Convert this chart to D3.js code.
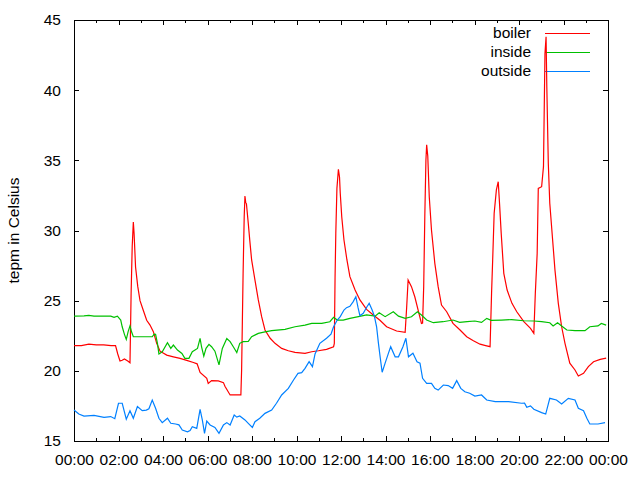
<!DOCTYPE html>
<html>
<head>
<meta charset="utf-8">
<script src="https://cdn.jsdelivr.net/npm/d3@7"></script>
<style>
  body { margin: 0; background: #fff; }
  text { font-family: "Liberation Sans", Arial, sans-serif; font-size: 15.5px; fill: #000; }
</style>
</head>
<body>
<div id="chart"></div>
<script>
// minutes of the day, temperatures in Celsius
var boilerMin = [0,20,40,60,80,100,112,118,124,130,136,145,151,154,157,160,162,166,172,178,187,196,205,214,223,232,250,268,286,304,322,332,340,358,362,371,389,403,407,421,450,452,454,456,459,461,463,465,470,474,479,488,497,506,515,529,542,560,578,596,623,641,659,681,700,702,704,706,709,713,716,718,722,728,736,744,758,771,789,807,825,843,870,893,897,901,910,919,928,937,940,943,946,949,951,954,958,964,973,982,991,1005,1022,1041,1059,1077,1095,1110,1122,1126,1129,1133,1139,1144,1148,1152,1159,1168,1181,1194,1213,1231,1240,1244,1249,1252,1261,1266,1270,1273,1275,1279,1283,1290,1297,1306,1315,1324,1337,1351,1360,1374,1387,1401,1419,1435];
var boilerTemp = [21.8,21.8,21.9,21.85,21.85,21.8,21.8,21.2,20.7,20.75,20.85,20.7,20.58,25.5,28.9,30.6,29.8,27.4,26.0,25.0,24.3,23.6,23.26,22.79,21.96,21.4,21.12,21.0,20.89,20.75,20.59,20.5,19.88,19.47,19.1,19.3,19.28,19.16,18.9,18.28,18.28,20.06,23.5,26.95,31.0,32.46,32.0,31.9,30.5,29.3,27.9,26.47,25.05,23.86,22.91,22.32,21.96,21.6,21.43,21.31,21.24,21.36,21.43,21.53,21.72,21.96,26.7,29.8,33.0,34.36,33.8,32.65,30.98,29.32,27.9,26.71,25.76,25.05,24.38,23.98,23.6,23.14,22.84,22.74,24.5,26.47,26.0,25.28,24.33,23.38,23.4,26.0,31.0,35.0,36.1,35.3,32.4,30.04,27.66,26.0,24.69,24.21,23.38,22.91,22.43,22.15,21.9,21.8,21.72,25.52,27.9,31.22,32.89,33.48,31.7,29.8,26.95,25.76,24.81,24.21,23.5,23.03,22.67,25.52,28.37,33.0,33.12,34.55,42.6,43.81,40.25,34.79,31.94,29.56,27.18,24.81,23.14,21.96,20.55,20.06,19.63,19.82,20.3,20.65,20.82,20.9];

var insideMin = [0,27,40,54,99,108,117,126,130,136,141,146,151,155,160,211,216,220,225,229,238,252,261,268,279,291,299,310,319,333,340,344,350,356,364,371,380,391,400,412,421,430,439,447,456,470,479,497,515,533,569,596,623,641,668,690,700,710,726,744,767,789,812,823,839,861,875,893,910,926,937,951,969,995,1022,1040,1060,1081,1099,1113,1125,1153,1180,1213,1240,1261,1283,1292,1304,1315,1329,1351,1378,1391,1413,1422,1435];
var insideTemp = [23.9,23.92,23.95,23.9,23.9,23.81,23.9,23.62,23.14,22.6,22.24,22.79,23.2,22.8,22.43,22.43,22.62,22.6,21.96,21.2,21.36,22.0,21.6,21.84,21.48,21.24,20.89,20.89,21.36,21.6,22.32,21.7,21.05,21.6,21.89,21.72,21.4,20.42,21.6,22.3,22.08,21.7,21.31,21.96,22.08,22.1,22.43,22.67,22.77,22.86,22.96,23.14,23.26,23.38,23.38,23.5,23.81,23.62,23.62,23.74,23.86,23.98,23.9,24.14,23.86,24.21,23.9,23.74,23.85,24.21,23.98,23.62,23.43,23.5,23.62,23.45,23.5,23.55,23.45,23.74,23.6,23.62,23.65,23.57,23.55,23.5,23.43,23.2,23.43,23.2,22.91,22.86,22.86,23.14,23.2,23.38,23.26];

var outsideMin = [0,13,27,54,81,99,110,120,130,141,151,160,171,184,195,202,211,220,229,238,252,261,274,283,292,306,313,319,331,340,346,352,358,367,380,391,403,412,421,432,439,447,461,470,481,488,501,515,533,546,560,578,592,604,614,623,634,643,650,663,681,693,700,710,718,728,735,744,753,760,766,771,780,790,796,804,810,816,821,826,831,839,848,854,866,875,887,895,902,914,925,933,940,951,964,973,982,996,1009,1021,1032,1043,1054,1067,1081,1099,1113,1136,1172,1207,1215,1221,1231,1240,1261,1272,1283,1301,1315,1333,1351,1360,1374,1383,1391,1413,1432];
var outsideTemp = [17.21,16.92,16.78,16.83,16.69,16.74,16.59,17.69,17.69,16.55,17.16,16.62,17.45,17.16,17.2,17.3,17.92,17.33,16.62,16.31,16.62,16.26,16.21,16.15,15.78,15.66,15.75,16.02,15.9,17.26,16.5,15.55,16.42,16.14,15.97,15.55,16.14,16.31,16.14,16.85,16.7,16.78,16.5,16.26,15.97,16.38,16.62,16.97,17.21,17.69,18.28,18.75,19.35,19.82,19.87,20.18,20.65,20.3,21.2,21.96,22.32,22.62,23.14,23.62,23.86,24.33,24.5,24.6,24.93,25.28,24.5,23.93,24.1,24.57,24.81,24.33,23.9,23.14,21.96,20.9,19.9,20.55,21.26,21.72,21.0,21.0,21.72,22.32,21.0,21.25,20.65,20.55,19.47,19.11,19.11,18.75,18.63,18.99,18.95,18.75,19.3,18.75,18.51,18.4,18.2,18.28,17.92,17.8,17.8,17.69,17.7,17.4,17.5,17.26,17.02,16.92,18.04,17.92,17.64,18.04,17.92,17.33,17.16,16.62,16.21,16.21,16.31];

var seriesNames = ["boiler", "inside", "outside"];
var seriesColors = ["#ff0000", "#00c000", "#0080ff"];
var xTickMin = [0,120,240,360,480,600,720,840,960,1080,1200,1320,1440];
var xTickLabels = ["00:00","02:00","04:00","06:00","08:00","10:00","12:00","14:00","16:00","18:00","20:00","22:00","00:00"];
var xMinorMin = [60,180,300,420,540,660,780,900,1020,1140,1260,1380];
var yTicks = [15,20,25,30,35,40,45];

var w = 640;
var h = 480;
var plotLeft = 74, plotRight = 608, plotTop = 20, plotBottom = 441;

var svg = d3.select("#chart").append("svg")
  .attr("width", w)
  .attr("height", h);

var x = d3.scaleLinear().domain([0, 1440]).range([plotLeft, plotRight]);
var y = d3.scaleLinear().domain([15, 45]).range([plotBottom, plotTop]);

// tick marks, inward, on all four sides
svg.append("g").attr("transform", "translate(0," + plotBottom + ")")
  .call(d3.axisBottom(x).tickValues(xTickMin).tickSize(-5).tickPadding(13)
    .tickFormat(function(d, i) { return xTickLabels[i]; }));
svg.append("g").attr("transform", "translate(0," + plotTop + ")")
  .call(d3.axisTop(x).tickValues(xTickMin).tickSize(-5).tickFormat(""));

svg.append("g").attr("transform", "translate(0," + plotBottom + ")")
  .call(d3.axisBottom(x).tickValues(xMinorMin).tickSize(-3).tickFormat(""));
svg.append("g").attr("transform", "translate(0," + plotTop + ")")
  .call(d3.axisTop(x).tickValues(xMinorMin).tickSize(-3).tickFormat(""));

svg.append("g").attr("transform", "translate(" + plotLeft + ",0)")
  .call(d3.axisLeft(y).tickValues(yTicks).tickSize(-5).tickPadding(13));
svg.append("g").attr("transform", "translate(" + plotRight + ",0)")
  .call(d3.axisRight(y).tickValues(yTicks).tickSize(-5).tickFormat(""));

svg.selectAll(".domain").remove();
svg.selectAll(".tick line").attr("stroke", "#000").attr("shape-rendering", "crispEdges");
svg.selectAll(".tick text")
  .style("font-family", "'Liberation Sans', Arial, sans-serif")
  .style("font-size", "15.5px")
  .attr("fill", "#000");

svg.append("rect")
  .attr("x", plotLeft + 0.5)
  .attr("y", plotTop + 0.5)
  .attr("width", plotRight - plotLeft)
  .attr("height", plotBottom - plotTop)
  .attr("fill", "none")
  .attr("stroke", "#000")
  .attr("shape-rendering", "crispEdges");

svg.append("text")
  .attr("transform", "translate(19," + ((plotTop + plotBottom) / 2) + ") rotate(-90)")
  .attr("text-anchor", "middle")
  .text("tepm in Celsius");

var line = d3.line()
  .x(function(d) { return x(d[0]); })
  .y(function(d) { return y(d[1]); });

var allData = [
  d3.zip(boilerMin, boilerTemp),
  d3.zip(insideMin, insideTemp),
  d3.zip(outsideMin, outsideTemp)
];

// legend
seriesNames.forEach(function(name, i) {
  var ly = 33 + i * 19;
  svg.append("text")
    .attr("x", 531)
    .attr("y", ly + 5)
    .attr("text-anchor", "end")
    .text(name);
  svg.append("line")
    .attr("x1", 545).attr("x2", 590)
    .attr("y1", ly + 0.5).attr("y2", ly + 0.5)
    .attr("stroke", seriesColors[i])
    .attr("stroke-width", 1.2);
});

allData.forEach(function(data, i) {
  svg.append("path")
    .datum(data)
    .attr("fill", "none")
    .attr("stroke", seriesColors[i])
    .attr("stroke-width", 1.2)
    .attr("d", line);
});
</script>
</body>
</html>
